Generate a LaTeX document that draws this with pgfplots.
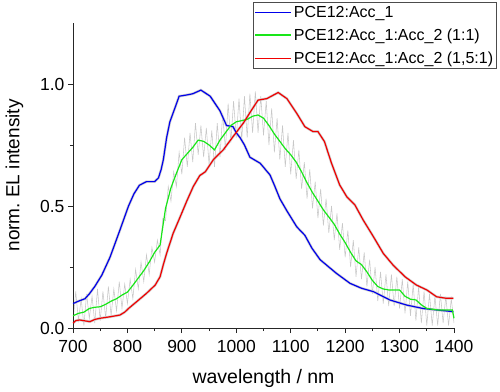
\documentclass[border=0pt]{standalone}
\usepackage{pgfplots}
\pgfplotsset{compat=1.18}
\usepackage{fontspec}
\setmainfont{Liberation Sans}
\usetikzlibrary{calc}
\definecolor{lnblue}{RGB}{0,0,235}
\definecolor{lngreen}{RGB}{25,230,25}
\definecolor{lnred}{RGB}{240,0,0}
\definecolor{rawgray}{RGB}{200,200,200}
\definecolor{bandgray}{RGB}{210,210,210}
\pgfplotsset{base/.style={width=381pt, height=305pt, scale only axis,
  xmin=700, xmax=1400, ymin=0, ymax=1.25}}
\begin{document}
\begin{tikzpicture}
% background: raw (noisy) traces
\begin{axis}[base, hide axis]
\addplot[rawgray, line width=0.55pt] coordinates {
(700,0.02)(705,0.15)(710,0.03)(715,0.12)(720,0.01)(725,0.14)(730,0.04)(735,0.13)(740,0.02)(745,0.16)
(750,0.03)(755,0.15)(760,0.04)(765,0.17)(770,0.05)(775,0.16)(780,0.07)(785,0.19)(790,0.08)(795,0.18)
(800,0.10)(805,0.20)(810,0.12)(815,0.24)(820,0.16)(825,0.27)(830,0.19)(835,0.30)(840,0.22)(845,0.33)
(850,0.27)(855,0.36)(860,0.30)(865,0.45)(870,0.44)(875,0.58)(880,0.52)(885,0.64)(890,0.58)(895,0.72)
(900,0.63)(905,0.78)(910,0.66)(915,0.80)(920,0.68)(925,0.84)(930,0.71)(935,0.83)(940,0.70)(945,0.82)
(950,0.67)(955,0.81)(960,0.66)(965,0.84)(970,0.70)(975,0.88)(980,0.73)(985,0.92)(990,0.76)(995,0.93)
(1000,0.78)(1005,0.94)(1010,0.77)(1015,0.95)(1020,0.78)(1025,0.96)(1030,0.80)(1035,0.97)(1040,0.80)(1045,0.95)
(1050,0.79)(1055,0.93)(1060,0.75)(1065,0.90)(1070,0.72)(1075,0.86)(1080,0.69)(1085,0.83)(1090,0.66)(1095,0.80)
(1100,0.63)(1105,0.77)(1110,0.61)(1115,0.73)(1120,0.57)(1125,0.68)(1130,0.53)(1135,0.65)(1140,0.49)(1145,0.60)
(1150,0.45)(1155,0.57)(1160,0.42)(1165,0.53)(1170,0.39)(1175,0.50)(1180,0.36)(1185,0.47)(1190,0.32)(1195,0.43)
(1200,0.29)(1205,0.40)(1210,0.25)(1215,0.36)(1220,0.21)(1225,0.33)(1230,0.20)(1235,0.31)(1240,0.17)(1245,0.28)
(1250,0.14)(1255,0.25)(1260,0.11)(1265,0.23)(1270,0.10)(1275,0.22)(1280,0.09)(1285,0.22)(1290,0.09)(1295,0.21)
(1300,0.08)(1305,0.20)(1310,0.06)(1315,0.19)(1320,0.05)(1325,0.18)(1330,0.03)(1335,0.17)(1340,0.02)(1345,0.15)
(1350,0.01)(1355,0.14)(1360,0.01)(1365,0.13)(1370,0.01)(1375,0.14)(1380,0.02)(1385,0.13)(1390,0.01)(1395,0.12)(1400,0.02)
};
\addplot[bandgray, line width=2.6pt] coordinates {
(700,0.10)(710,0.11)(722,0.12)(730,0.14)(740,0.17)(753,0.217)(768,0.29)(786,0.40)(802,0.50)(812,0.55)
(822,0.585)(835,0.60)(850,0.60)(857,0.615)(862,0.65)(866,0.69)(872,0.78)(878,0.845)(887,0.90)(895,0.95)
(909,0.955)(920,0.96)(935,0.975)(952,0.95)(970,0.89)(982,0.83)(994,0.825)(1000,0.80)(1007,0.78)(1015,0.75)
(1025,0.70)(1044,0.675)(1062,0.627)(1071,0.58)(1080,0.53)(1093,0.48)(1111,0.415)(1126,0.38)(1139,0.327)(1154,0.28)
(1170,0.25)(1184,0.224)(1209,0.183)(1230,0.163)(1252,0.149)(1282,0.115)(1313,0.094)(1343,0.08)(1368,0.074)(1399,0.067)
};
\addplot[bandgray, line width=2.6pt] coordinates {
(700,0.02)(705,0.03)(712,0.033)(720,0.03)(731,0.026)(740,0.035)(750,0.04)(768,0.046)(786,0.053)(795,0.065)
(802,0.08)(817,0.108)(835,0.142)(851,0.176)(860,0.21)(866,0.26)(872,0.306)(884,0.388)(897,0.456)(909,0.52)
(921,0.58)(933,0.625)(943,0.64)(958,0.69)(976,0.73)(994,0.784)(1013,0.84)(1028,0.893)(1040,0.934)(1056,0.94)
(1077,0.965)(1093,0.94)(1111,0.88)(1126,0.825)(1141,0.805)(1150,0.805)(1162,0.764)(1175,0.675)(1190,0.586)(1203,0.538)
(1218,0.504)(1233,0.443)(1252,0.374)(1270,0.306)(1288,0.258)(1310,0.21)(1331,0.176)(1350,0.156)(1368,0.128)(1385,0.122)(1399,0.122)
};
\end{axis}
% foreground: axes and smoothed traces
\begin{axis}[base, name=ax,
  axis x line*=bottom, axis y line*=left,
  axis line style={line width=1pt, black!85},
  tick align=outside,
  major tick length=5pt, minor tick length=3pt,
  every tick/.style={line width=0.9pt, black!85},
  xtick={700,800,...,1400}, minor x tick num=1,
  ytick={0,0.5,1.0}, minor y tick num=1,
  /pgf/number format/assume math mode=true,
  xticklabel style={/pgf/number format/1000 sep={}, font=\fontsize{17.5}{20}\selectfont, yshift=-4pt},
  yticklabel style={/pgf/number format/.cd, fixed, fixed zerofill, precision=1, /tikz/.cd, font=\fontsize{17.5}{20}\selectfont},
  xlabel={wavelength / nm}, ylabel={norm.\ EL intensity},
  xlabel style={font=\fontsize{19.5}{22}\selectfont, yshift=-10pt},
  ylabel style={font=\fontsize{19}{22}\selectfont, yshift=10pt},
  clip=false,
  legend style={at={(1.1129,1.0689)}, anchor=north east, draw=black!70, line width=0.8pt,
    font=\fontsize{16}{18}\selectfont, inner sep=1.5pt, row sep=6pt,
    legend cell align=left},
  legend image code/.code={\draw[#1, line width=1.3pt] (-1pt,0pt) -- (35pt,0pt);},
]
\addplot[color=lnblue, line width=1.2pt] coordinates {
(700,0.10)(710,0.11)(722,0.12)(730,0.14)(740,0.17)(753,0.217)(768,0.29)(786,0.40)(802,0.50)(812,0.55)
(822,0.585)(835,0.60)(850,0.60)(857,0.615)(862,0.65)(866,0.69)(872,0.78)(878,0.845)(887,0.90)(895,0.95)
(909,0.955)(920,0.96)(935,0.975)(952,0.95)(970,0.89)(982,0.83)(994,0.825)(1000,0.80)(1007,0.78)(1015,0.75)
(1025,0.70)(1044,0.675)(1062,0.627)(1071,0.58)(1080,0.53)(1093,0.48)(1111,0.415)(1126,0.38)(1139,0.327)(1154,0.28)
(1170,0.25)(1184,0.224)(1209,0.183)(1230,0.163)(1252,0.149)(1282,0.115)(1313,0.094)(1343,0.08)(1368,0.074)(1399,0.067)
};
\addlegendentry{PCE12:Acc\_1}
\addplot[color=lngreen, line width=1.2pt] coordinates {
(700,0.05)(710,0.06)(720,0.065)(730,0.08)(740,0.085)(750,0.087)(760,0.097)(770,0.11)(780,0.12)(790,0.135)
(800,0.147)(810,0.175)(820,0.205)(830,0.235)(840,0.27)(850,0.31)(860,0.34)(870,0.49)(880,0.575)(890,0.634)
(900,0.69)(910,0.715)(920,0.74)(930,0.77)(940,0.765)(950,0.75)(960,0.73)(970,0.77)(980,0.80)(990,0.83)
(1000,0.845)(1010,0.85)(1020,0.855)(1030,0.868)(1040,0.873)(1050,0.86)(1060,0.83)(1070,0.795)(1080,0.765)(1090,0.735)
(1100,0.71)(1110,0.68)(1120,0.64)(1130,0.595)(1140,0.555)(1150,0.52)(1160,0.484)(1170,0.455)(1180,0.425)(1190,0.385)
(1200,0.35)(1210,0.31)(1220,0.275)(1230,0.26)(1240,0.23)(1250,0.195)(1260,0.17)(1270,0.16)(1280,0.156)(1290,0.156)
(1300,0.156)(1310,0.13)(1320,0.118)(1330,0.115)(1340,0.095)(1350,0.08)(1360,0.077)(1370,0.074)(1380,0.074)(1390,0.074)(1397,0.074)(1400,0.04)
};
\addlegendentry{PCE12:Acc\_1:Acc\_2 (1:1)}
\addplot[color=lnred, line width=1.2pt] coordinates {
(700,0.02)(705,0.03)(712,0.033)(720,0.03)(731,0.026)(740,0.035)(750,0.04)(768,0.046)(786,0.053)(795,0.065)
(802,0.08)(817,0.108)(835,0.142)(851,0.176)(860,0.21)(866,0.26)(872,0.306)(884,0.388)(897,0.456)(909,0.52)
(921,0.58)(933,0.625)(943,0.64)(958,0.69)(976,0.73)(994,0.784)(1013,0.84)(1028,0.893)(1040,0.934)(1056,0.94)
(1077,0.965)(1093,0.94)(1111,0.88)(1126,0.825)(1141,0.805)(1150,0.805)(1162,0.764)(1175,0.675)(1190,0.586)(1203,0.538)
(1218,0.504)(1233,0.443)(1252,0.374)(1270,0.306)(1288,0.258)(1310,0.21)(1331,0.176)(1350,0.156)(1368,0.128)(1385,0.122)(1399,0.122)
};
\addlegendentry{PCE12:Acc\_1:Acc\_2 (1,5:1)}
\end{axis}
\pgfresetboundingbox
\path ($(ax.south west)+(-73pt,-63pt)$) rectangle ($(ax.south west)+(427pt,328pt)$);
\end{tikzpicture}
\end{document}
